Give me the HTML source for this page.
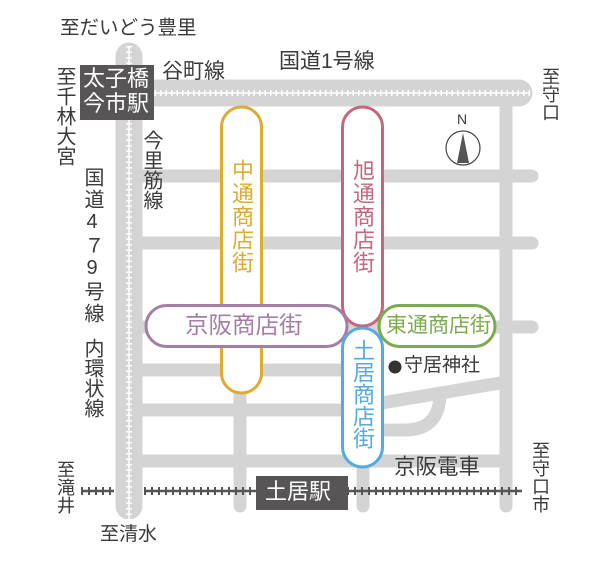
<!DOCTYPE html>
<html><head><meta charset="utf-8"><style>
html,body{margin:0;padding:0;background:#fff;}
#w{position:relative;width:604px;height:567px;overflow:hidden;font-family:"Liberation Sans","Noto Sans CJK JP",sans-serif;color:#3a3a3a;}
.t{position:absolute;white-space:nowrap;line-height:1;}
.v{position:absolute;writing-mode:vertical-rl;text-orientation:upright;line-height:1;white-space:nowrap;}
svg{position:absolute;left:0;top:0;}
</style></head><body><div id="w">
<svg width="604" height="567" viewBox="0 0 604 567">
<g stroke="#d3d4d3" stroke-linecap="round" fill="none">
 <line x1="240" y1="100" x2="240" y2="506" stroke-width="13"/>
 <line x1="363" y1="100" x2="363" y2="506" stroke-width="13"/>
 <line x1="506" y1="100" x2="506" y2="506" stroke-width="13"/>
 <line x1="130" y1="176" x2="532" y2="176" stroke-width="13"/>
 <line x1="130" y1="243" x2="532" y2="243" stroke-width="13"/>
 <line x1="130" y1="327" x2="532" y2="327" stroke-width="13"/>
 <line x1="130" y1="370" x2="370" y2="370" stroke-width="13"/>
 <line x1="130" y1="410" x2="370" y2="410" stroke-width="13"/>
 <line x1="130" y1="461" x2="506" y2="461" stroke-width="13"/>
 <line x1="370" y1="405" x2="506" y2="382" stroke-width="13"/>
 <path d="M440 393 Q440 430 405 430 L370 430" stroke-width="13"/>
 <line x1="129" y1="56" x2="129" y2="506" stroke-width="27"/>
 <line x1="129" y1="93" x2="519" y2="93" stroke-width="27"/>
</g>
<g stroke="#fff" fill="none">
 <line x1="129" y1="46" x2="129" y2="520" stroke-width="1.5"/>
 <line x1="129" y1="46" x2="129" y2="520" stroke-width="6" stroke-dasharray="1.5 4"/>
 <line x1="116" y1="93" x2="530" y2="93" stroke-width="1.5"/>
 <line x1="116" y1="93" x2="530" y2="93" stroke-width="6" stroke-dasharray="1.5 4"/>
</g>
<g stroke="#555" fill="none">
 <line x1="81" y1="491" x2="114" y2="491" stroke-width="2.5"/>
 <line x1="81" y1="491" x2="114" y2="491" stroke-width="8" stroke-dasharray="2 5"/>
 <line x1="144" y1="491" x2="522" y2="491" stroke-width="2.5"/>
 <line x1="144" y1="491" x2="522" y2="491" stroke-width="8" stroke-dasharray="2 5"/>
</g>
<g fill="#fff" stroke-width="3">
 <rect x="221.5" y="107" width="40" height="286" rx="20" stroke="#dcab33"/>
 <rect x="342.5" y="107" width="40" height="219" rx="20" stroke="#c4677f"/>
 <rect x="146" y="305.5" width="201" height="41" rx="20.5" stroke="#a47ea7"/>
 <rect x="379" y="305.5" width="116" height="41" rx="20.5" stroke="#7caa4e"/>
 <rect x="342.5" y="328" width="40" height="139" rx="20" stroke="#55aadf"/>
</g>
<rect x="80" y="65" width="74" height="55" fill="#575556"/>
<rect x="256" y="476" width="92" height="34" fill="#575556"/>
<circle cx="463" cy="148" r="17" fill="#fff" stroke="#444" stroke-width="1.2"/>
<polygon points="463,133 457,163 469,163" fill="#555"/>
<circle cx="395" cy="367" r="6.5" fill="#333"/>
</svg>
<div class="t" style="left:60px;top:19px;font-size:19.5px;">至だいどう豊里</div>
<div class="t" style="left:83px;top:66px;font-size:22px;color:#fff;line-height:25px;">太子橋<br>今市駅</div>
<div class="t" style="left:162px;top:61px;font-size:21px;">谷町線</div>
<div class="t" style="left:279px;top:51px;font-size:21px;">国道1号線</div>
<div class="v" style="left:541px;top:67px;font-size:18px;">至守口</div>
<div class="t" style="left:457px;top:112px;font-size:14px;">N</div>
<div class="v" style="left:54px;top:66px;font-size:20px;line-height:20px;">至千林大宮</div>
<div class="v" style="left:141px;top:130px;font-size:20px;line-height:20px;">今里筋線</div>
<div class="v" style="left:81px;top:167px;font-size:20px;line-height:21px;letter-spacing:2px;">国道4７9号線</div>
<div class="v" style="left:81px;top:338px;font-size:20px;line-height:21px;">内環状線</div>
<div class="v" style="left:230px;top:159px;font-size:22px;color:#dcab33;letter-spacing:1px;">中通商店街</div>
<div class="v" style="left:351px;top:159px;font-size:22px;color:#c4677f;letter-spacing:1px;">旭通商店街</div>
<div class="v" style="left:351px;top:339px;font-size:22px;color:#55aadf;letter-spacing:0px;">土居商店街</div>
<div class="t" style="left:185px;top:314px;font-size:23.5px;color:#a47ea7;">京阪商店街</div>
<div class="t" style="left:386px;top:315px;font-size:21px;color:#7caa4e;">東通商店街</div>
<div class="t" style="left:404px;top:356px;font-size:19px;">守居神社</div>
<div class="t" style="left:394px;top:457px;font-size:21.5px;">京阪電車</div>
<div class="t" style="left:265px;top:481px;font-size:22px;color:#fff;">土居駅</div>
<div class="v" style="left:55px;top:460px;font-size:18px;line-height:19px;">至滝井</div>
<div class="t" style="left:100px;top:525px;font-size:19px;">至清水</div>
<div class="v" style="left:530px;top:441px;font-size:18px;line-height:19px;">至守口市</div>
</div></body></html>
